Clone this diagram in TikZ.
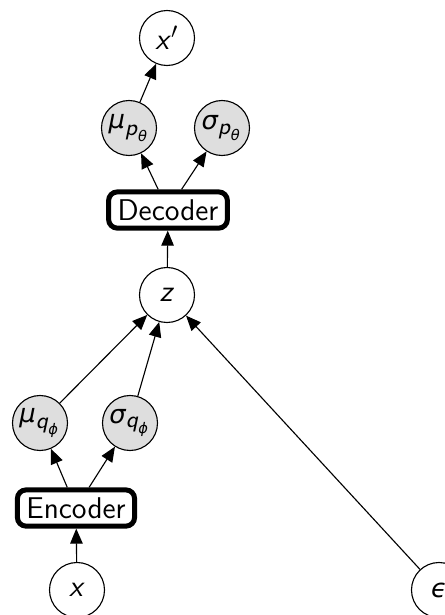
\documentclass[tikz,border=0pt]{standalone}
\usepackage{amsmath}
\usepackage{fontspec}
\newfontfamily\greeksans[Scale=0.86]{DejaVu Sans}
\newcommand{\gsym}[1]{\text{\greeksans\itshape #1}}
\newcommand{\lsym}[1]{\text{\sffamily\slshape #1\/}}
\DeclareMathSizes{12}{12}{9.2}{6.8}
\usetikzlibrary{arrows.meta}
\begin{document}
\begin{tikzpicture}[x=0.4pt,y=-0.4pt,
  font=\fontsize{12}{14}\selectfont\sffamily,
  var/.style={circle,draw,line width=0.45pt,minimum size=22pt,inner sep=0pt},
  param/.style={var,fill=black!13},
  net/.style={draw,line width=2pt,rounded corners=3.5pt,inner xsep=3.6pt,inner ysep=2.2pt,minimum height=14.5pt},
  edge/.style={line width=0.45pt,-{Triangle[length=6pt,width=5pt]}}]
  \useasboundingbox (0,0) rectangle (445,615);
  % generative side
  \node[var]   (xp)  at (167,38)  {$\lsym{x}'$};
  \node[param] (mup) at (129,128) {$\gsym{μ}_{\lsym{p}_{\gsym{θ}}}$};
  \node[param] (sgp) at (222,128) {$\gsym{σ}_{\lsym{p}_{\gsym{θ}}}$};
  \node[net]   (dec) at (168,210) {Decoder};
  % latent
  \node[var]   (z)   at (167,295) {$\lsym{z}$};
  % inference side
  \node[param] (muq) at (40,423)  {$\gsym{μ}_{\lsym{q}_{\gsym{ϕ}}}$};
  \node[param] (sgq) at (130,423) {$\gsym{σ}_{\lsym{q}_{\gsym{ϕ}}}$};
  \node[net]   (enc) at (76,508)  {Encoder};
  \node[var]   (x)   at (77,590)  {$\lsym{x}$};
  \node[var]   (eps) at (439,590) {$\gsym{ϵ}$};
  % connectors
  \draw[edge] (x) -- (enc);
  \draw[edge] (enc) -- (muq);
  \draw[edge] (enc) -- (sgq);
  \draw[edge] (muq) -- (z);
  \draw[edge] (sgq) -- (z);
  \draw[edge] (eps) -- (z);
  \draw[edge] (z) -- (dec);
  \draw[edge] (dec) -- (mup);
  \draw[edge] (dec) -- (sgp);
  \draw[edge] (mup) -- (xp);
\end{tikzpicture}
\end{document}
